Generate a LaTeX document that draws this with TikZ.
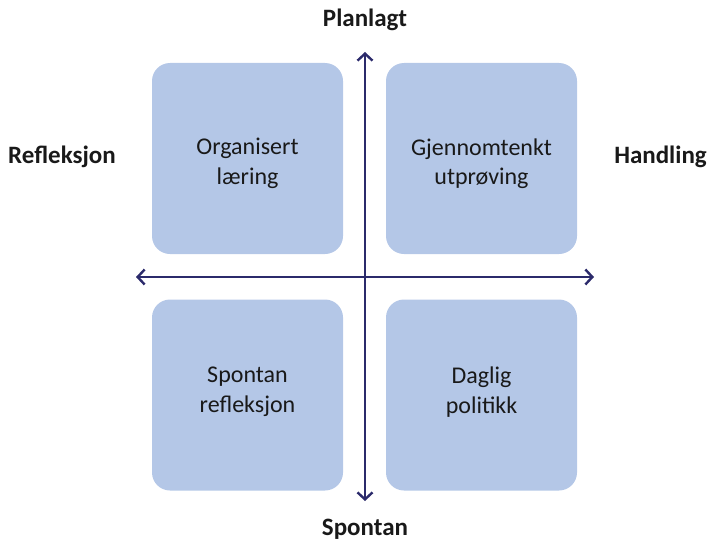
\documentclass[tikz,border=0pt]{standalone}
\usepackage{fontspec}
\setmainfont{Carlito}
\usetikzlibrary{arrows.meta}
\definecolor{boxblue}{HTML}{B4C7E7}
\definecolor{navy}{HTML}{2B2A6B}
\tikzset{
  quad/.style={fill=boxblue, draw=none, rounded corners=18pt, minimum width=191pt, minimum height=191pt, inner sep=0pt},
  quadtext/.style={inner sep=0pt, align=center, font=\fontsize{24}{29.5}\selectfont, text=black!90},
  axislabel/.style={font=\bfseries\fontsize{25}{30}\selectfont, text=black!90, inner sep=0pt, anchor=base},
  axis/.style={draw=navy, line width=2.5pt, {Straight Barb[length=7pt,width=15pt,line width=2.4pt]}-{Straight Barb[length=7pt,width=15pt,line width=2.4pt]}}
}
\begin{document}
\begin{tikzpicture}[x=1pt,y=-1pt]
\useasboundingbox (0,0) rectangle (709,543);
\node[quad] (ol) at (247.5,158.5) {};
\node[quad] (gu) at (481.5,158.5) {};
\node[quad] (sr) at (247.5,395) {};
\node[quad] (dp) at (481.5,395) {};
\node[quadtext] (olt) at ([yshift=-5pt]ol.center) {Organisert\\læring};
\node[quadtext] (gut) at ([yshift=-5pt]gu.center) {Gjennomtenkt\\utprøving};
\node[quadtext] (srt) at ([yshift=3pt]sr.center) {Spontan\\refleksjon};
\node[quadtext] (dpt) at ([yshift=3pt]dp.center) {Daglig\\politikk};
\node[axislabel] (pl) at (365,27) {Planlagt};
\node[axislabel] (sp) at (365,535) {Spontan};
\node[axislabel] (re) at (62,163) {Refleksjon};
\node[axislabel] (ha) at (660.5,163) {Handling};
\coordinate (vt) at (365,52);
\coordinate (vb) at (365,501);
\coordinate (hl) at (136,277);
\coordinate (hr) at (594,277);
\draw[axis] (vt) -- (vb);
\draw[axis] (hl) -- (hr);
\end{tikzpicture}
\end{document}
